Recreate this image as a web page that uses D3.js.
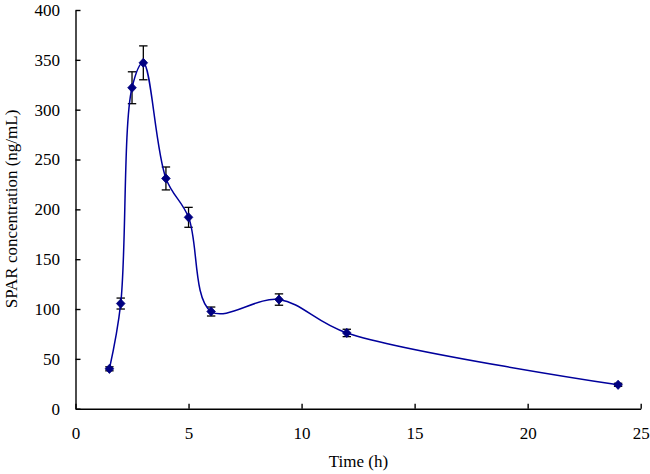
<!DOCTYPE html>
<html>
<head>
<meta charset="utf-8">
<script src="https://cdn.jsdelivr.net/npm/d3@7"></script>
<style>
	body { margin: 0; background: #fff; }
	svg text { font-family: "Liberation Serif", "Times New Roman", serif !important; }
</style>
</head>
<body>
<div id="chart"></div>
<script>
// time points (h), mean concentration (ng/mL) and error (SD)
var time = [1.5, 2, 2.5, 3, 4, 5, 6, 9, 12, 24]
var conc = [40, 105.5, 322, 347, 231, 192, 97.5, 109.5, 76, 24]
var sd = [2, 5.5, 16, 17, 11.5, 10, 4.5, 5.7, 3.7, 1.5]
var xTicks = [0, 5, 10, 15, 20, 25]
var yTicks = [0, 50, 100, 150, 200, 250, 300, 350, 400]

var width = 650
	height = 474
	serif = "'Liberation Serif', 'Times New Roman', serif"

var svg = d3.select("#chart")
	.append("svg")
	.attr("width", width)
	.attr("height", height)

var x = d3.scaleLinear().domain([0, 25]).range([75.5, 640.7])
var y = d3.scaleLinear().domain([0, 400]).range([408.7, 10])

var data = time.map(function(t, i) { return {t: t, c: conc[i], e: sd[i]} })

// axes, ticks pointing inward
svg.append("g")
	.attr("transform", "translate(0," + y(0) + ")")
	.call(d3.axisBottom(x).tickValues(xTicks).tickSizeInner(-5).tickSizeOuter(0).tickPadding(18))
	.call(function(g) {
		g.attr("font-family", serif)
		g.selectAll("path, line").attr("stroke", "#000").attr("stroke-width", 1.4)
		g.selectAll("text").attr("font-size", 17).attr("fill", "#000").style("font-family", serif)
	})

svg.append("g")
	.attr("transform", "translate(" + x(0) + ",0)")
	.call(d3.axisLeft(y).tickValues(yTicks).tickSizeInner(-5).tickSizeOuter(0).tickPadding(15.5))
	.call(function(g) {
		g.attr("font-family", serif)
		g.selectAll("path, line").attr("stroke", "#000").attr("stroke-width", 1.4)
		g.selectAll("text").attr("font-size", 17).attr("fill", "#000").style("font-family", serif)
	})

// axis titles
svg.append("text")
	.text("Time (h)")
	.attr("x", 358.5)
	.attr("y", 467)
	.attr("text-anchor", "middle")
	.attr("font-size", 17)

svg.append("text")
	.text("SPAR concentration (ng/mL)")
	.attr("transform", "translate(17," + 209 + ") rotate(-90)")
	.attr("text-anchor", "middle")
	.attr("font-size", 17)

// error bars
var eb = svg.append("g").attr("stroke", "#000").attr("stroke-width", 1.3)
data.forEach(function(d) {
	eb.append("line")
		.attr("x1", x(d.t)).attr("x2", x(d.t))
		.attr("y1", y(d.c - d.e)).attr("y2", y(d.c + d.e))
	eb.append("line")
		.attr("x1", x(d.t) - 4.2).attr("x2", x(d.t) + 4.2)
		.attr("y1", y(d.c - d.e)).attr("y2", y(d.c - d.e))
	eb.append("line")
		.attr("x1", x(d.t) - 4.2).attr("x2", x(d.t) + 4.2)
		.attr("y1", y(d.c + d.e)).attr("y2", y(d.c + d.e))
})

// smoothed line
var line = d3.line()
	.x(function(d) { return x(d.t) })
	.y(function(d) { return y(d.c) })
	.curve(d3.curveCatmullRom.alpha(0.5))

svg.append("path")
	.datum(data)
	.attr("d", line)
	.attr("fill", "none")
	.attr("stroke", "#00009c")
	.attr("stroke-width", 1.5)

// diamond markers
svg.selectAll(".pt")
	.data(data)
	.enter()
	.append("path")
	.attr("class", "pt")
	.attr("d", "M0,-4.6L4.3,0L0,4.6L-4.3,0Z")
	.attr("transform", function(d) { return "translate(" + x(d.t) + "," + y(d.c) + ")" })
	.attr("fill", "#000080")
	.attr("stroke", "#000080")
	.attr("stroke-width", 0.8)
</script>
</body>
</html>
